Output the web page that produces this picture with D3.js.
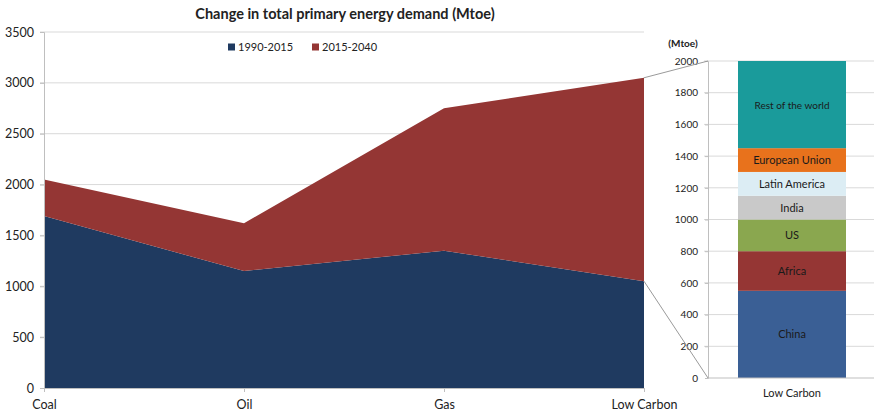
<!DOCTYPE html>
<html>
<head>
<meta charset="utf-8">
<script src="https://cdn.jsdelivr.net/npm/d3@7"></script>
<style>
  html, body { margin: 0; padding: 0; background: #fff; }
  svg { display: block; font-family: Lato, "Open Sans", sans-serif; }
</style>
</head>
<body>
<svg id="chart" width="874" height="415"></svg>
<script>
// Fuel categories and the two periods of demand change (Mtoe), stacked
const categories = ["Coal", "Oil", "Gas", "Low Carbon"];
const change19902015 = [1690, 1150, 1350, 1050];
const change20152040 = [360, 470, 1400, 2000];
const seriesNames = ["1990-2015", "2015-2040"];
const seriesColors = ["#1f3a60", "#943634"];
const leftTicks = [0, 500, 1000, 1500, 2000, 2500, 3000, 3500];

// Low-carbon growth 2015-2040 broken down by region (Mtoe)
const regions = ["China", "Africa", "US", "India", "Latin America", "European Union", "Rest of the world"];
const lowCarbonByRegion = [550, 250, 200, 150, 150, 150, 550];
const regionColors = ["#3a5f95", "#953634", "#8aa74f", "#c9c9c9", "#dcedf4", "#e8721c", "#1a9b9b"];
const rightTicks = [0, 200, 400, 600, 800, 1000, 1200, 1400, 1600, 1800, 2000];

const svg = d3.select("#chart");
const grid = "#d9d9d9";
const axisCol = "#bfbfbf";
const textCol = "#222";
const fmt = d3.format("d");

// ---------- Left: stacked area ----------
const x = d3.scalePoint().domain(categories).range([44, 644]);
const y = d3.scaleLinear().domain([0, 3500]).range([388, 32]);

const rows = categories.map((c, i) => ({ cat: c, a: change19902015[i], b: change20152040[i] }));
const stack = d3.stack().keys(["a", "b"])(rows);

const gL = svg.append("g");
gL.selectAll("line.grid").data(leftTicks.filter(t => t > 0)).join("line")
  .attr("x1", 40).attr("x2", 644)
  .attr("y1", d => y(d)).attr("y2", d => y(d))
  .attr("stroke", grid).attr("stroke-width", 1);

const area = d3.area()
  .x(d => x(d.data.cat))
  .y0(d => y(d[0]))
  .y1(d => y(d[1]));
gL.selectAll("path.area").data(stack).join("path")
  .attr("d", area)
  .attr("fill", (d, i) => seriesColors[i]);

// y axis
const yAxis = d3.axisLeft(y).tickValues(leftTicks).tickFormat(fmt).tickSize(4).tickPadding(6);
const gy = gL.append("g").attr("transform", "translate(44,0)").call(yAxis);
gy.select(".domain").attr("stroke", axisCol);
gy.selectAll(".tick line").attr("stroke", axisCol);
gy.selectAll(".tick text").attr("fill", textCol).style("font-size", "12.5px").style("font-family", "Lato, sans-serif");

// x axis
const xAxis = d3.axisBottom(x).tickSize(4).tickPadding(8);
const gx = gL.append("g").attr("transform", "translate(0,388)").call(xAxis);
gx.select(".domain").attr("stroke", axisCol);
gx.selectAll(".tick line").attr("stroke", axisCol);
gx.selectAll(".tick text").attr("fill", textCol).style("font-size", "12.5px").style("font-family", "Lato, sans-serif");

// title
svg.append("text").attr("x", 345).attr("y", 19).attr("text-anchor", "middle")
  .attr("fill", textCol).style("font-size", "14.5px").style("font-weight", "bold")
  .text("Change in total primary energy demand (Mtoe)");

// legend
const legendX = [228, 312];
const lg = svg.append("g").selectAll("g").data(seriesNames).join("g")
  .attr("transform", (d, i) => `translate(${legendX[i]},47)`);
lg.append("rect").attr("x", 0).attr("y", -3.5).attr("width", 7).attr("height", 7)
  .attr("fill", (d, i) => seriesColors[i]);
lg.append("text").attr("x", 10).attr("y", 4).attr("fill", textCol)
  .style("font-size", "11px").text(d => d);

// ---------- Right: regional breakdown of low-carbon growth ----------
const yR = d3.scaleLinear().domain([0, 2000]).range([378, 61]);

const gR = svg.append("g");
gR.selectAll("line.grid").data(rightTicks.filter(t => t > 0)).join("line")
  .attr("x1", 704).attr("x2", 874)
  .attr("y1", d => yR(d)).attr("y2", d => yR(d))
  .attr("stroke", grid).attr("stroke-width", 1);

const segs = [];
let acc = 0;
regions.forEach((r, i) => { segs.push({ name: r, y0: acc, y1: acc + lowCarbonByRegion[i], color: regionColors[i] }); acc += lowCarbonByRegion[i]; });

const barX = 738, barW = 108;
gR.selectAll("rect.seg").data(segs).join("rect")
  .attr("x", barX).attr("width", barW)
  .attr("y", d => yR(d.y1)).attr("height", d => yR(d.y0) - yR(d.y1))
  .attr("fill", d => d.color);
gR.selectAll("text.seg").data(segs).join("text")
  .attr("x", barX + barW / 2).attr("y", d => (yR(d.y0) + yR(d.y1)) / 2 + 4)
  .attr("text-anchor", "middle").attr("fill", "#1a1a1a")
  .style("font-size", d => d.name === "Rest of the world" ? "10px" : "11px")
  .text(d => d.name);

const yAxisR = d3.axisLeft(yR).tickValues(rightTicks).tickFormat(fmt).tickSize(3).tickPadding(7);
const gyR = gR.append("g").attr("transform", "translate(708,0)").call(yAxisR);
gyR.select(".domain").attr("stroke", axisCol);
gyR.selectAll(".tick line").attr("stroke", axisCol);
gyR.selectAll(".tick text").attr("fill", textCol).style("font-size", "10px").style("font-family", "Lato, sans-serif");

gR.append("line").attr("x1", 708).attr("x2", 874).attr("y1", 378).attr("y2", 378).attr("stroke", axisCol);
gR.append("text").attr("x", barX + barW / 2).attr("y", 397).attr("text-anchor", "middle")
  .attr("fill", textCol).style("font-size", "11px").text("Low Carbon");
gR.append("text").attr("x", 683).attr("y", 47).attr("text-anchor", "middle")
  .attr("fill", textCol).style("font-size", "10px").style("font-weight", "bold").text("(Mtoe)");

// connector lines from the low-carbon 2015-2040 slice to the breakdown axis
const lc = categories.length - 1;
const conn = [
  [x(categories[lc]), y(change19902015[lc] + change20152040[lc]), 708, yR(2000)],
  [x(categories[lc]), y(change19902015[lc]), 708, yR(0)]
];
svg.append("g").selectAll("line").data(conn).join("line")
  .attr("x1", d => d[0]).attr("y1", d => d[1]).attr("x2", d => d[2]).attr("y2", d => d[3])
  .attr("stroke", "#9a9a9a").attr("stroke-width", 1);
</script>
</body>
</html>
